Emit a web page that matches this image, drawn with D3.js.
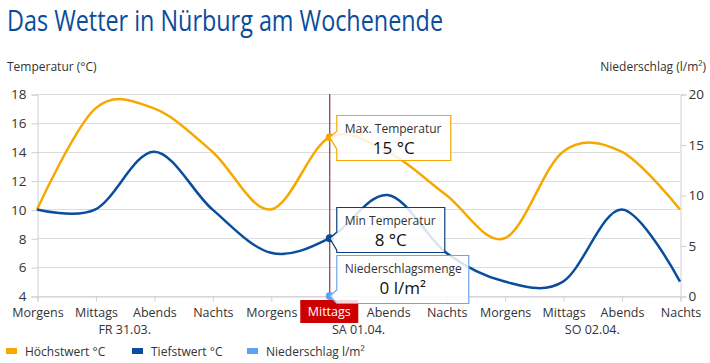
<html>
<head>
<meta charset="utf-8">
<script src="https://d3js.org/d3.v7.min.js"></script>
<style>
  * { margin: 0; padding: 0; }
  body { background: #fff; font-family: 'Open Sans', sans-serif; }
  svg text { font-family: 'Open Sans', sans-serif; }
</style>
</head>
<body>
<div id="chart"></div>
<script>
/* global d3 */

// data
var slots = ['Morgens', 'Mittags', 'Abends', 'Nachts',
             'Morgens', 'Mittags', 'Abends', 'Nachts',
             'Morgens', 'Mittags', 'Abends', 'Nachts'];
var days = ['FR 31.03.', 'SA 01.04.', 'SO 02.04.'];
var hoechst = [10, 17, 17, 14, 10, 15, 14, 11, 8, 14, 14, 10];
var tiefst = [10, 10, 14, 10, 7, 8, 11, 7, 5, 5, 10, 5];
var niederschlag = [0, 0, 0, 0, 0, 0, 0, 0, 0, 0, 0, 0];
var tempTicks = [4, 6, 8, 10, 12, 14, 16, 18];
var rainTicks = [0, 5, 10, 15, 20];
var hoverIndex = 5;

var width = 710, height = 363;
var plotLeft = 37, plotRight = 680, plotTop = 94, plotBottom = 296;

var orange = '#f6a800', blue = '#0a4d9c', lightBlue = '#5aa2f2';

var svg = d3.select('#chart').append('svg')
  .attr('width', width).attr('height', height);

// title, condensed face
svg.append('text')
  .attr('x', 7).attr('y', 31)
  .attr('textLength', 436).attr('lengthAdjust', 'spacingAndGlyphs')
  .style('font-size', '29px').style('fill', '#0a4d9c')
  .text('Das Wetter in Nürburg am Wochenende');

svg.append('text').attr('x', 7).attr('y', 71)
  .style('font-size', '12px').style('fill', '#333')
  .text('Temperatur (°C)');
svg.append('text').attr('x', 706).attr('y', 71)
  .attr('text-anchor', 'end')
  .style('font-size', '12px').style('fill', '#333')
  .text('Niederschlag (l/m²)');

var x = d3.scalePoint().domain(d3.range(slots.length)).range([plotLeft, plotRight]);
var yT = d3.scaleLinear().domain([4, 18]).range([plotBottom, plotTop]);
var yP = d3.scaleLinear().domain([0, 20]).range([plotBottom, plotTop]);

// grid
svg.append('g').selectAll('line').data(tempTicks).enter().append('line')
  .attr('x1', plotLeft).attr('x2', plotRight)
  .attr('y1', function (d) { return Math.round(yT(d)) + 0.5; })
  .attr('y2', function (d) { return Math.round(yT(d)) + 0.5; })
  .style('stroke', '#dcdcdc');

var leftAxis = svg.append('g').attr('transform', 'translate(' + (plotLeft + 0.5) + ',0.5)')
  .call(d3.axisLeft(yT).tickValues(tempTicks).tickSize(6).tickPadding(5));
var rightAxis = svg.append('g').attr('transform', 'translate(' + (plotRight + 0.5) + ',0.5)')
  .call(d3.axisRight(yP).tickValues(rainTicks).tickSize(6).tickPadding(2));
var bottomAxis = svg.append('g').attr('transform', 'translate(0.5,' + (plotBottom + 0.5) + ')')
  .call(d3.axisBottom(x).tickSize(5).tickPadding(7).tickFormat(function (i) { return slots[i]; }));

[leftAxis, rightAxis, bottomAxis].forEach(function (g) {
  g.select('.domain').style('stroke', '#d0d0d0');
  g.selectAll('.tick line').style('stroke', '#d0d0d0');
  g.selectAll('text').style('font-size', '12.5px').style('fill', '#333')
    .style('font-family', "'Open Sans', sans-serif");
});
leftAxis.selectAll('text').style('font-size', '13.5px');
rightAxis.selectAll('text').style('font-size', '13.5px');

// day labels under each group of four
svg.append('g').selectAll('text').data(days).enter().append('text')
  .attr('x', function (d, i) { return (x(i * 4) + x(i * 4 + 3)) / 2; })
  .attr('y', 334)
  .attr('text-anchor', 'middle')
  .style('font-size', '12.5px').style('fill', '#333')
  .text(function (d) { return d; });

// precipitation columns (all zero)
svg.append('g').selectAll('rect').data(niederschlag).enter().append('rect')
  .attr('x', function (d, i) { return x(i) - 8; })
  .attr('y', function (d) { return yP(d); })
  .attr('width', 16)
  .attr('height', function (d) { return plotBottom - yP(d); })
  .style('fill', lightBlue);

var curve = d3.curveCardinal.tension(0);
function linePath(values) {
  return d3.line().curve(curve)
    .x(function (d, i) { return x(i); })
    .y(function (d) { return yT(d); })(values);
}
svg.append('path').attr('d', linePath(hoechst))
  .style('fill', 'none').style('stroke', orange).style('stroke-width', 2.5);
svg.append('path').attr('d', linePath(tiefst))
  .style('fill', 'none').style('stroke', blue).style('stroke-width', 2.5);

// crosshair
var cx = x(hoverIndex);
svg.append('line').attr('x1', cx + 0.5).attr('x2', cx + 0.5)
  .attr('y1', plotTop).attr('y2', plotBottom)
  .style('stroke', '#7a1010').style('stroke-width', 1);

// highlighted x label replaces the plain one
bottomAxis.selectAll('.tick').filter(function (d) { return d === hoverIndex; })
  .select('text').remove();
svg.append('rect').attr('x', cx - 29).attr('y', 300).attr('width', 58).attr('height', 23)
  .style('fill', '#cc0000');
svg.append('text').attr('x', cx).attr('y', 316).attr('text-anchor', 'middle')
  .style('font-size', '12.5px').style('fill', '#fff').text(slots[hoverIndex]);

// markers
[[yT(hoechst[hoverIndex]), orange], [yT(tiefst[hoverIndex]), blue], [yP(niederschlag[hoverIndex]), lightBlue]]
  .forEach(function (m) {
    svg.append('circle').attr('cx', cx + 0.5).attr('cy', m[0]).attr('r', 4).style('fill', m[1]);
  });

// tooltips
var tips = [
  { title: 'Max. Temperatur', value: hoechst[hoverIndex] + ' °C', color: orange,
    ay: yT(hoechst[hoverIndex]), y0: 115, w: 114, h: 45 },
  { title: 'Min Temperatur', value: tiefst[hoverIndex] + ' °C', color: '#0a3f80',
    ay: yT(tiefst[hoverIndex]), y0: 207, w: 108, h: 45 },
  { title: 'Niederschlagsmenge', value: niederschlag[hoverIndex] + ' l/m²', color: '#6aa8ee',
    ay: yP(niederschlag[hoverIndex]), y0: 255, w: 132, h: 48 }
];
tips.forEach(function (t) {
  var x0 = cx + 7.5, y0 = t.y0 + 0.5, x1 = x0 + t.w, y1 = y0 + t.h;
  var nTop = Math.max(y0, t.ay - 6), nBot = Math.min(y1, t.ay + 12);
  var p = 'M' + x0 + ',' + y0 + 'H' + x1 + 'V' + y1 + 'H' + x0 +
    'V' + nBot + 'L' + (cx + 0.5) + ',' + t.ay + 'L' + x0 + ',' + nTop + 'Z';
  svg.append('path').attr('d', p)
    .style('fill', 'rgba(255,255,255,0.85)').style('stroke', t.color).style('stroke-width', 1.2);
  svg.append('text').attr('x', x0 + 8).attr('y', y0 + 17)
    .style('font-size', '12px').style('fill', '#333').text(t.title);
  svg.append('text').attr('x', x0 + t.w / 2).attr('y', y0 + 38)
    .attr('text-anchor', 'middle')
    .style('font-size', '17px').style('font-weight', 500).style('fill', '#111').text(t.value);
});

// legend
var legend = [['Höchstwert °C', orange, 6], ['Tiefstwert °C', blue, 132], ['Niederschlag l/m²', lightBlue, 247]];
var lg = svg.append('g').selectAll('g').data(legend).enter().append('g');
lg.append('rect').attr('x', function (d) { return d[2]; }).attr('y', 348)
  .attr('width', 11).attr('height', 6).style('fill', function (d) { return d[1]; });
lg.append('text').attr('x', function (d) { return d[2] + 19; }).attr('y', 356)
  .style('font-size', '12px').style('fill', '#333').text(function (d) { return d[0]; });
</script>
</body>
</html>
